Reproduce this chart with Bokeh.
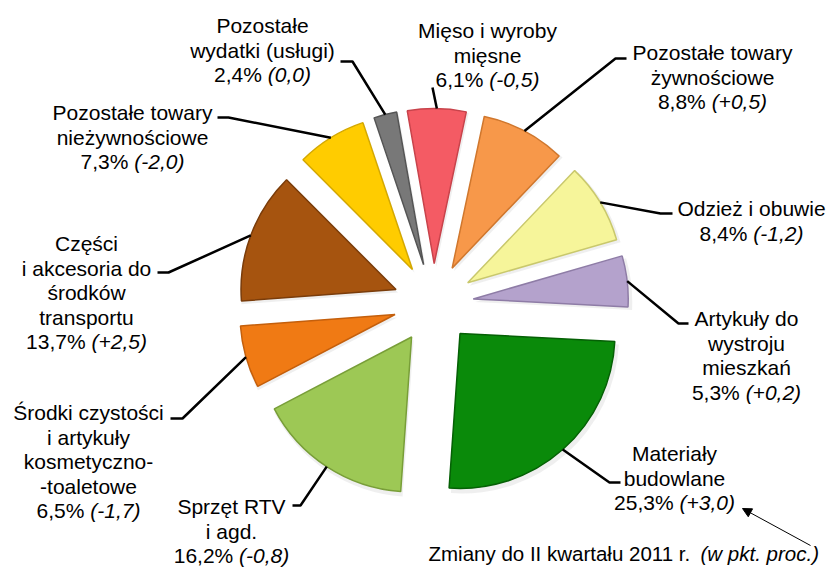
import math
from bokeh.plotting import figure
from bokeh.models import Range1d, Arrow, NormalHead, ColumnDataSource
from bokeh.embed import file_html
from bokeh.resources import INLINE
from bokeh.core.properties import value

# ---------------- data (clockwise from the top) ----------------
names = [
    ["Mięso i wyroby", "mięsne"],
    ["Pozostałe towary", "żywnościowe"],
    ["Odzież i obuwie"],
    ["Artykuły do", "wystroju", "mieszkań"],
    ["Materiały", "budowlane"],
    ["Sprzęt RTV", "i agd."],
    ["Środki czystości", "i artykuły", "kosmetyczno-", "-toaletowe"],
    ["Części", "i akcesoria do", "środków", "transportu"],
    ["Pozostałe towary", "nieżywnościowe"],
    ["Pozostałe", "wydatki (usługi)"],
]
shares = [6.1, 8.8, 8.4, 5.3, 25.3, 16.2, 6.5, 13.7, 7.3, 2.4]
changes = [-0.5, 0.5, -1.2, 0.2, 3.0, -0.8, -1.7, 2.5, -2.0, 0.0]
colors = ["#F45B64", "#F7984A", "#F6F59A", "#B4A2CC", "#0A8A0A",
          "#9DC855", "#F07A14", "#A6540F", "#FFCC00", "#787878"]
edges = ["#C8434B", "#D0772D", "#C9C86C", "#8E7CA6", "#056005",
         "#789E38", "#C45F0C", "#7A3C0A", "#D4A800", "#555555"]
footnote = "Zmiany do II kwartału 2011 r."
footnote_italic = "(w pkt. proc.)"

# ---------------- layout (screen pixels, y downwards) ----------------
W, SH = 828, 567
CX, CY = 433, 303
R = 155
EXPLODE = 40
START_BEARING = -10.0
FS = 21
LS = 24.5

label_x = [487, 712, 751, 746, 674, 231, 88, 86, 132, 262]
label_y0 = [30, 52, 208, 318, 453, 506, 412, 243, 112, 25]
elbows = [(432, 87), (615, 58), (660, 213), (678, 323), (609, 482),
          (300, 505), (182, 418), (168, 272), (228, 117), (352, 61)]
ends = [(432, 87), (626, 58), (672, 213), (688, 323), (620, 482),
        (292, 505), (170, 418), (157, 272), (217, 117), (340, 61)]

CW = {str(d): 556 for d in range(10)}
CW.update({',': 278, '.': 278, '%': 889, '(': 333, ')': 333, '-': 333, '+': 584, ' ': 278})


def tw(s):
    return sum(CW.get(c, 556) for c in s) * FS / 1000.0


def fmt_share(v):
    return f"{v:.1f}".replace('.', ',') + "% "


def fmt_change(v):
    s = "0,0" if abs(v) < 1e-9 else f"{v:+.1f}".replace('.', ',')
    return "(" + s + ")"


def Y(y):
    return SH - y


p = figure(width=W, height=SH, x_range=Range1d(0, W), y_range=Range1d(0, SH),
           output_backend="svg", toolbar_location=None, min_border=0,
           x_axis_type=None, y_axis_type=None)
p.grid.visible = False
p.outline_line_color = None
p.background_fill_color = "white"
p.border_fill_color = "white"

total = sum(shares)
wx, wy, st, en, bis_list = [], [], [], [], []
b = START_BEARING
for s in shares:
    b0 = b
    b1 = b + 360.0 * s / total
    bis = (b0 + b1) / 2
    br = math.radians(bis)
    ax = CX + EXPLODE * math.sin(br)
    ay = CY - EXPLODE * math.cos(br)
    wx.append(ax)
    wy.append(Y(ay))
    st.append(math.radians(90 - b1))
    en.append(math.radians(90 - b0))
    bis_list.append(bis)
    b = b1

src = ColumnDataSource(dict(x=wx, y=wy, start=st, end=en, color=colors, edge=edges))
shadow = ColumnDataSource(dict(x=[v + 2 for v in wx], y=[v - 3 for v in wy], start=st, end=en))
p.wedge(x='x', y='y', radius=R + 2, start_angle='start', end_angle='end', direction='anticlock',
        fill_color="#BFBFBF", fill_alpha=0.25, line_color=None, source=shadow)
p.wedge(x='x', y='y', radius=R, start_angle='start', end_angle='end', direction='anticlock',
        fill_color='color', line_color='edge', line_width=1.5, source=src)

# leader lines
lx, ly = [], []
for i in range(len(shares)):
    br = math.radians(bis_list[i])
    sx = wx[i] + R * math.sin(br)
    sy = wy[i] + R * math.cos(br)
    ex, ey = elbows[i]
    tx, ty = ends[i]
    lx.append([sx, ex, tx])
    ly.append([sy, Y(ey), Y(ty)])
p.multi_line(xs=lx, ys=ly, line_color="black", line_width=2.5)

# labels
nx, ny, nt = [], [], []
ix, iy, it = [], [], []
for i in range(len(shares)):
    x0 = label_x[i]
    y = label_y0[i]
    for line in names[i]:
        nx.append(x0); ny.append(Y(y)); nt.append(line)
        y += LS
    a = fmt_share(shares[i])
    c = fmt_change(changes[i])
    left = x0 - (tw(a) + tw(c)) / 2
    p.text(x=[left], y=[Y(y)], text=[a], text_font=value("Liberation Sans"),
           text_font_size=f"{FS}px", text_align="left", text_baseline="middle", text_color="black")
    ix.append(left + tw(a)); iy.append(Y(y)); it.append(c)

p.text(x=nx, y=ny, text=nt, text_font=value("Liberation Sans"), text_font_size=f"{FS}px",
       text_align="center", text_baseline="middle", text_color="black")
p.text(x=ix, y=iy, text=it, text_font=value("Liberation Sans"), text_font_size=f"{FS}px",
       text_font_style="italic", text_align="left", text_baseline="middle", text_color="black")

# footnote
fx = 428
p.text(x=[fx], y=[Y(553)], text=[footnote], text_font=value("Liberation Sans"),
       text_font_size="20.5px", text_align="left", text_baseline="middle", text_color="black")
p.text(x=[700], y=[Y(553)], text=[footnote_italic], text_font=value("Liberation Sans"),
       text_font_size="20.5px", text_font_style="italic", text_align="left", text_baseline="middle",
       text_color="black")

p.add_layout(Arrow(end=NormalHead(size=9, fill_color="black", line_color="black", line_width=1),
                   x_start=810, y_start=Y(545), x_end=742, y_end=Y(508),
                   line_color="black", line_width=1))

open("out.html", "w").write(file_html(p, INLINE))
